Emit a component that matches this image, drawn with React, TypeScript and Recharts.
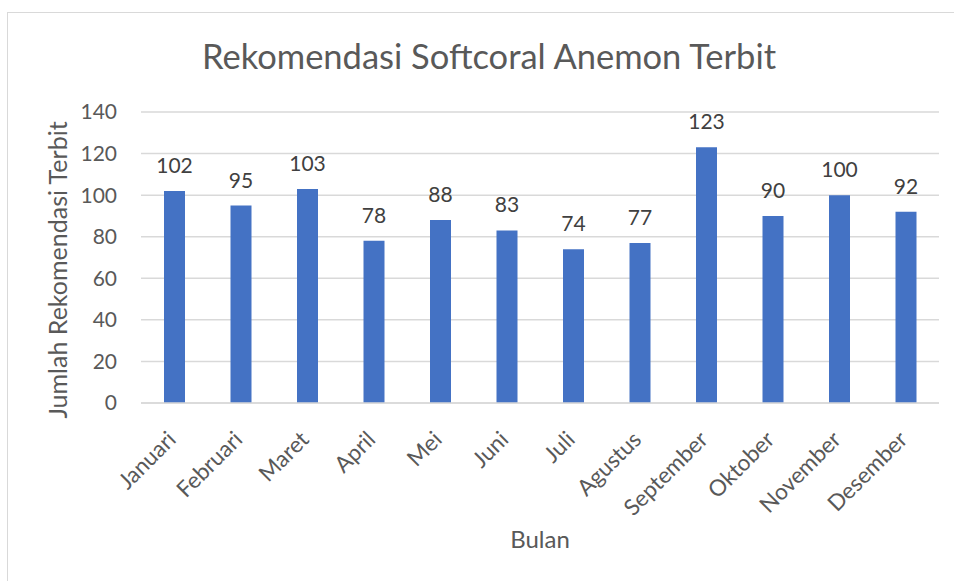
import React from 'react';
import { BarChart, Bar, XAxis, YAxis, CartesianGrid, LabelList } from 'recharts';

const months = ['Januari', 'Februari', 'Maret', 'April', 'Mei', 'Juni', 'Juli', 'Agustus', 'September', 'Oktober', 'November', 'Desember'];
const values = [102, 95, 103, 78, 88, 83, 74, 77, 123, 90, 100, 92];
const yTicks = [0, 20, 40, 60, 80, 100, 120, 140];
const title = 'Rekomendasi Softcoral Anemon Terbit';
const xTitle = 'Bulan';
const yTitle = 'Jumlah Rekomendasi Terbit';

const data = months.map((m, i) => ({ name: m, value: values[i] }));

const FONT = 'Lato, "Open Sans", sans-serif';
const AXIS_COLOR = '#595959';

const XTick = (props: any) => {
  const { x, y, payload } = props;
  const px = x + 3;
  const py = y + 30;
  return (
    <text
      x={px}
      y={py}
      transform={`rotate(-45 ${px} ${py})`}
      textAnchor="end"
      fill={AXIS_COLOR}
      fontSize={22.5}
      fontFamily={FONT}
    >
      {payload.value}
    </text>
  );
};

export default function App() {
  return (
    <div style={{ position: 'absolute', left: 0, top: 0, width: 954, height: 581, background: '#fff', overflow: 'hidden' }}>
      <div style={{ position: 'absolute', left: 7, top: 12, width: 960, height: 600, border: '1px solid #d9d9d9', boxSizing: 'border-box' }} />
      <div style={{ position: 'absolute', left: 0, top: 0 }}>
        <BarChart width={954} height={581} data={data} margin={{ top: 112, right: 15, bottom: 78, left: 81 }}>
          <CartesianGrid vertical={false} stroke="#d9d9d9" strokeWidth={1.5} />
          <XAxis
            dataKey="name"
            height={100}
            interval={0}
            tickLine={false}
            axisLine={{ stroke: '#d9d9d9', strokeWidth: 1.5 }}
            tick={<XTick />}
          />
          <YAxis
            width={60}
            domain={[0, 140]}
            ticks={yTicks}
            interval={0}
            axisLine={false}
            tickLine={false}
            tickMargin={18}
            tick={{ fill: AXIS_COLOR, fontSize: 21, fontFamily: FONT }}
          />
          <Bar dataKey="value" fill="#4472C4" barSize={21} isAnimationActive={false}>
            <LabelList dataKey="value" position="top" offset={18} fill="#404040" fontSize={21} fontFamily={FONT} />
          </Bar>
          <text x={489} y={69} textAnchor="middle" fill={AXIS_COLOR} fontSize={34.5} fontFamily={FONT}>{title}</text>
          <text x={540} y={548} textAnchor="middle" fill={AXIS_COLOR} fontSize={24} fontFamily={FONT}>{xTitle}</text>
          <text x={67} y={270} transform="rotate(-90 67 270)" textAnchor="middle" fill={AXIS_COLOR} fontSize={25} fontFamily={FONT}>{yTitle}</text>
        </BarChart>
      </div>
    </div>
  );
}
